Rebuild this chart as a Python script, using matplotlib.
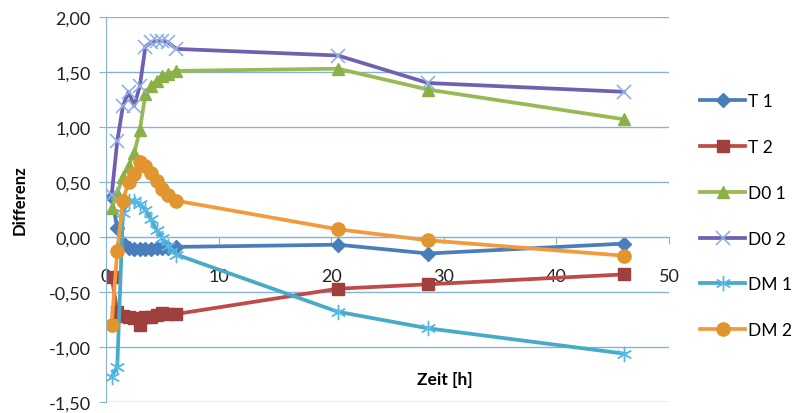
import matplotlib
matplotlib.use("Agg")
import matplotlib.pyplot as plt
from matplotlib.ticker import MultipleLocator, FuncFormatter

# measurement times [h]
zeit = [0.5, 1.0, 1.5, 2.0, 2.5, 3.0, 3.5, 4.0, 4.5, 5.0, 5.5, 6.25, 20.6, 28.6, 46.0]

t1 = [0.36, 0.08, -0.05, -0.10, -0.11, -0.11, -0.11, -0.11, -0.10, -0.10, -0.10, -0.09, -0.07, -0.15, -0.06]
t2 = [-0.36, -0.68, -0.72, -0.73, -0.74, -0.80, -0.73, -0.73, -0.71, -0.69, -0.70, -0.70, -0.47, -0.43, -0.34]
d0_1 = [0.26, 0.40, 0.55, 0.65, 0.76, 0.97, 1.30, 1.37, 1.42, 1.46, 1.48, 1.51, 1.53, 1.34, 1.07]
d0_2 = [0.38, 0.87, 1.19, 1.32, 1.19, 1.37, 1.73, 1.77, 1.78, 1.78, 1.77, 1.71, 1.65, 1.40, 1.32]
dm_1 = [-1.27, -1.18, 0.22, 0.33, 0.33, 0.30, 0.25, 0.16, 0.06, -0.01, -0.08, -0.16, -0.68, -0.83, -1.06]
dm_2 = [-0.80, -0.13, 0.33, 0.50, 0.57, 0.68, 0.65, 0.58, 0.51, 0.44, 0.38, 0.33, 0.07, -0.03, -0.17]

labels = ["T 1", "T 2", "D0 1", "D0 2", "DM 1", "DM 2"]

plt.rcParams["font.family"] = ["Lato", "DejaVu Sans"]

fig = plt.figure(figsize=(7.95, 4.14), dpi=100)
fig.patch.set_facecolor("white")
ax = fig.add_axes([106 / 795, 1 - 403 / 414, (669 - 106) / 795, (403 - 18) / 414])

grid_col = "#86b3d6"

styles = [
    dict(color="#4a7ebb", marker="D", ms=7, mfc="#4a7ebb", mec="#4a7ebb"),
    dict(color="#be4b48", marker="s", ms=8.5, mfc="#a0403d", mec="#a0403d"),
    dict(color="#98b954", marker="^", ms=9, mfc="#8bb146", mec="#8bb146"),
    dict(color="#7060b0", marker="x", ms=10, mfc="none", mec="#8fb0e8", mew=1.2),
    dict(color="#46aac8", marker=(6, 2, 0), ms=11, mfc="none", mec="#58b8e8", mew=1.0),
    dict(color="#f29a3c", marker="o", ms=9.5, mfc="#e0952f", mec="#e0952f"),
]

for y, lab, st in zip([t1, t2, d0_1, d0_2, dm_1, dm_2], labels, styles):
    ax.plot(zeit, y, lw=2.7, label=lab, **st)

ax.set_xlim(0, 50)
ax.set_ylim(-1.5, 2.0)
ax.yaxis.set_major_locator(MultipleLocator(0.5))
ax.xaxis.set_major_locator(MultipleLocator(10))


def komma(v, pos):
    s = "%.2f" % v
    if s == "-0.00":
        s = "0.00"
    return s.replace(".", ",")


ax.yaxis.set_major_formatter(FuncFormatter(komma))
ax.grid(axis="y", color=grid_col, lw=1)
ax.set_axisbelow(True)

for side in ["top", "right"]:
    ax.spines[side].set_visible(False)
ax.spines["left"].set_color(grid_col)
ax.spines["bottom"].set_color(grid_col)
ax.spines["bottom"].set_position(("data", 0))

ax.tick_params(axis="y", direction="out", length=5, color=grid_col, labelsize=13,
               labelcolor="#222222", pad=6)
ax.tick_params(axis="x", direction="out", length=5, color=grid_col, labelsize=13,
               labelcolor="#222222", pad=17)

fig.text(20 / 795, 1 - 200 / 414, "Differenz", rotation=90, ha="center", va="center",
         fontsize=12, fontweight="bold")
fig.text(445 / 795, 1 - 380 / 414, "Zeit [h]", ha="center", va="center",
         fontsize=12.5, fontweight="bold")

ax.legend(loc="upper left", bbox_to_anchor=(700 / 795, 1 - 94 / 414),
          bbox_transform=fig.transFigure, frameon=False, fontsize=12.5,
          handlelength=2.6, handletextpad=0.15, labelspacing=1.72,
          borderaxespad=0, borderpad=0)

fig.savefig("out.png", dpi=100)
